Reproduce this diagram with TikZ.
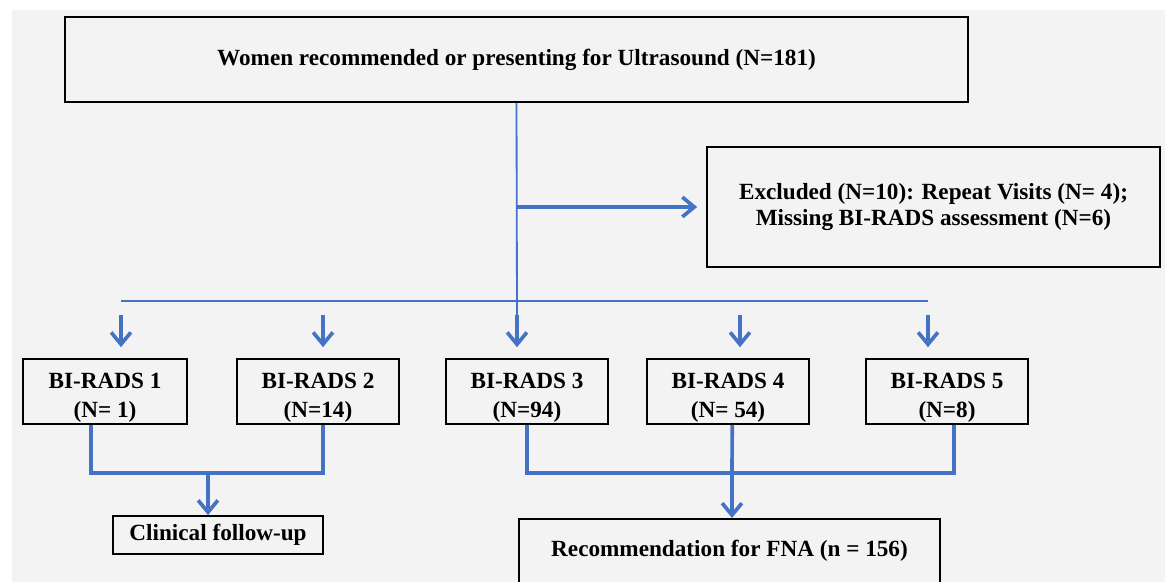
\documentclass[tikz,border=0pt]{standalone}
\usepackage{fontspec}
\setmainfont{Liberation Serif}
\usetikzlibrary{arrows.meta, shadows}
\definecolor{flowblue}{RGB}{68, 114, 196}
\definecolor{paper}{RGB}{243, 243, 243}
\newcommand{\headstrut}{\rule{0pt}{20pt}}

\begin{document}
\begin{tikzpicture}[x=0.25mm, y=-0.25mm,
        box/.style={rectangle, draw, line width=1.2pt, fill=paper, align=center, inner sep=0pt, font=\fontsize{16.5}{20}\selectfont\bfseries, drop shadow={shadow xshift=0.8pt, shadow yshift=-0.8pt, fill=black!60, opacity=0.35}},
        bus/.style={draw=flowblue, line width=1.3pt},
        link/.style={draw=flowblue, line width=2.6pt},
        tip/.style={-{Straight Barb[length=8.5pt, width=14pt]}}
    ]
        \useasboundingbox (0,0) rectangle (1165,582);
        \clip (0,0) rectangle (1165,582);
        \fill[white] (0,0) rectangle (1165,582);
        \fill[paper] (12,10) rectangle (1165,582);

        \node[box, minimum width=225.75mm, minimum height=21.25mm] (top) at (516.5,59.5) {Women recommended or presenting for Ultrasound (N=181)};
        \node[box, minimum width=113.25mm, minimum height=30mm, font=\fontsize{16.5}{18}\selectfont\bfseries] (excl) at (933.5,207) {Excluded (N=10): Repeat Visits (N= 4);\\Missing BI-RADS assessment (N=6)};

        \node[box, minimum width=41mm, minimum height=16.25mm] (b1) at (105,391.5) {\headstrut BI-RADS 1\\[1pt](N= 1)};
        \node[box, minimum width=40.5mm, minimum height=16.25mm] (b2) at (318,391.5) {\headstrut BI-RADS 2\\[1pt](N=14)};
        \node[box, minimum width=40.5mm, minimum height=16.25mm] (b3) at (527,391.5) {\headstrut BI-RADS 3\\[1pt](N=94)};
        \node[box, minimum width=40.5mm, minimum height=16.25mm] (b4) at (728,391.5) {\headstrut BI-RADS 4\\[1pt](N= 54)};
        \node[box, minimum width=40.5mm, minimum height=16.25mm] (b5) at (947,391.5) {\headstrut BI-RADS 5\\[1pt](N=8)};

        \node[box, minimum width=52.5mm, minimum height=9.5mm] (clin) at (218,535) {Clinical follow-up};
        \node[box, anchor=north, minimum width=105.25mm, text height=27pt, text depth=50pt] (fna) at (729.5,518) {Recommendation for FNA (n = 156)};

        % split line under the first box
        \coordinate (busL) at (121,301);
        \coordinate (busR) at (928,301);
        \draw[bus] (busL) -- (busR);
        \draw[bus] (top.south) -- (517,315);
        \draw[link, tip, shorten >=6.4pt] (top.south |- excl.west) -- (excl.west);

        \foreach \n/\x in {1/121, 2/323, 3/517, 4/740, 5/928} {
            \coordinate (d\n) at (\x,315);
            \draw[link, tip, shorten >=7.8pt] (d\n) -- (d\n |- b\n.north);
        }

        % merge into the two outcomes
        \coordinate (lj) at (208,473);
        \coordinate (rj) at (732,473);
        \draw[link] ([xshift=-10pt]b1.south) |- (lj) -| ([xshift=3.5pt]b2.south);
        \draw[link, tip] (lj) -- (lj |- clin.north);
        \draw[link] (b3.south) |- (rj) -| ([xshift=5pt]b5.south);
        \draw[link] ([xshift=3pt]b4.south) -- (rj);
        \draw[link, tip] (rj) -- (rj |- fna.north);
    \end{tikzpicture}
\end{document}
